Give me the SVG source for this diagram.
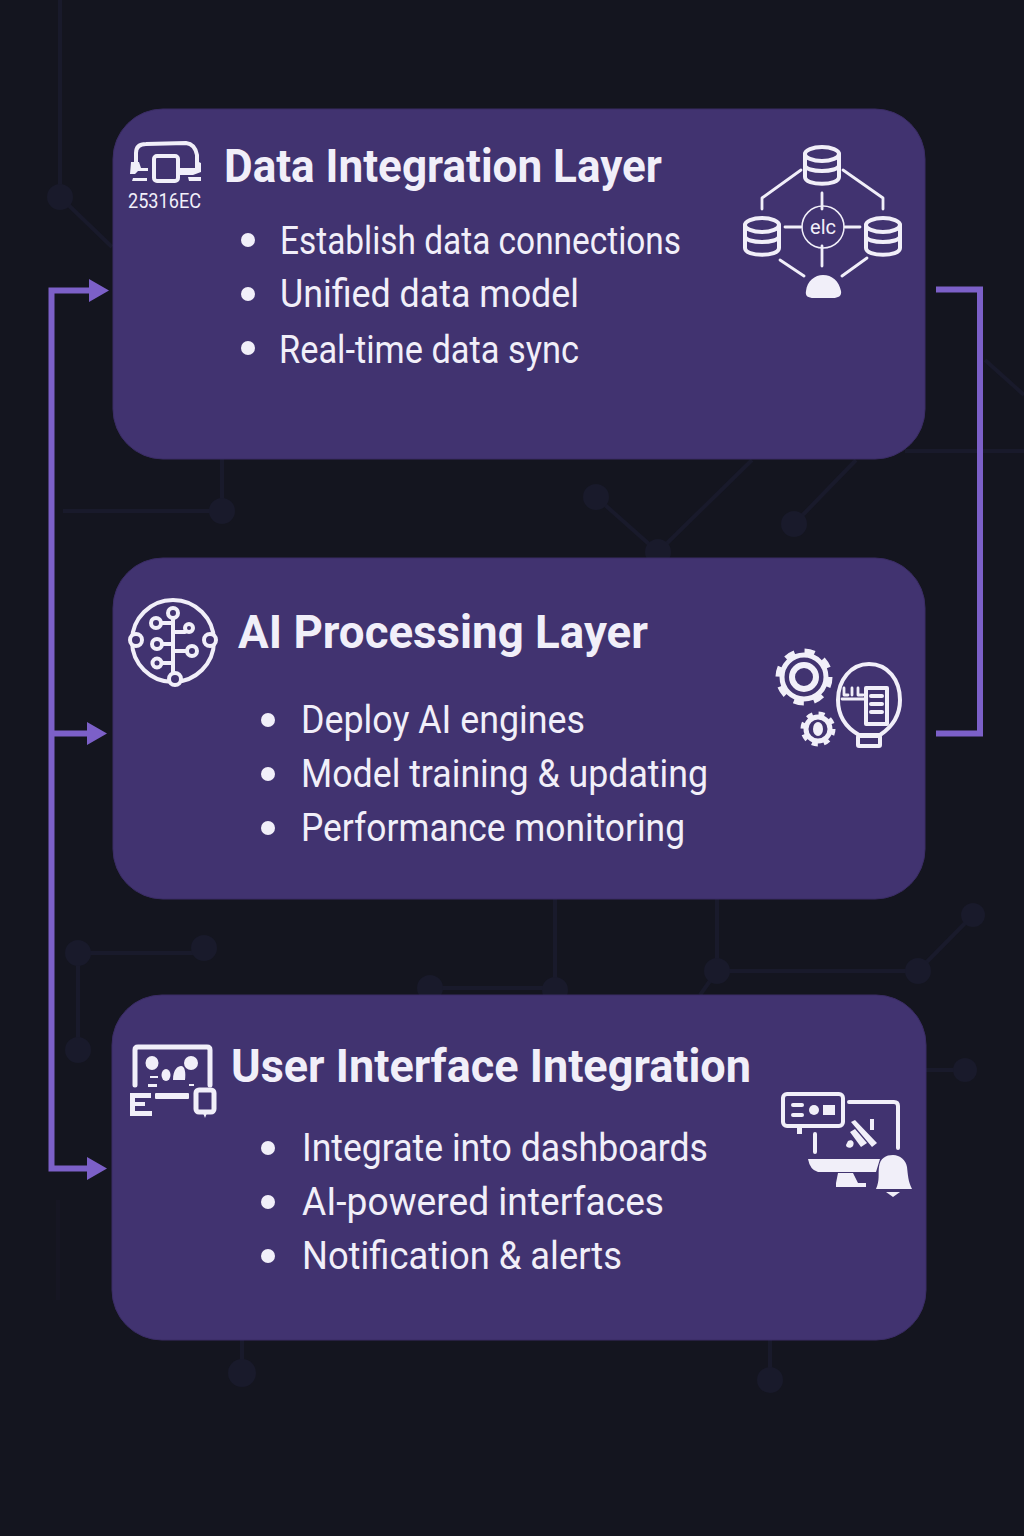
<svg xmlns="http://www.w3.org/2000/svg" width="1024" height="1536" viewBox="0 0 1024 1536">
<defs>
<style>
.card{fill:#413370;stroke:#3a2c64;stroke-width:1}
.title{font-family:Roboto,"Liberation Sans",sans-serif;font-weight:700;font-size:47px;fill:#f1eff9}
.item{font-family:Roboto,"Liberation Sans",sans-serif;font-weight:400;font-size:39px;fill:#f1eff9}
.dot{fill:#f1eff9}
.ln{fill:none;stroke:#f1eff9;stroke-width:4;stroke-linecap:round;stroke-linejoin:round}
.th{fill:none;stroke:#f1eff9;stroke-width:2.800;stroke-linecap:round;stroke-linejoin:round}
.fl{fill:#f1eff9}
.hl{fill:#413370;stroke:#f1eff9;stroke-width:4}
.bgl{fill:none;stroke:#191a2b;stroke-width:4}
.bgn{fill:#191a2b}
.conn{fill:none;stroke:#7c60c8;stroke-width:6}
.head{fill:#7c60c8}
.lbl{font-family:Roboto,"Liberation Sans",sans-serif;fill:#f1eff9}
</style>
<g id="db"><path class="ln" d="M-17-11V12C-17 21 17 21 17 12V-11"/><ellipse class="ln" cx="0" cy="-11" rx="17" ry="7"/><path class="ln" d="M-17 0C-17 8 17 8 17 0"/></g>
</defs>
<rect width="1024" height="1536" fill="#14151f"/>
<g id="background">
<path class="bgl" d="M60 0V197L112 247M63 511H222V459M596 497L658 552L752 460M794 524L856 460M905 451H1024M985 360L1024 395M78 953H204M78 953V1050M430 988H555V899M717 899V971H918L973 915M717 971L700 995M925 1070H965M242 1340V1373M770 1340V1380"/>
<path class="bgl" stroke-opacity=".4" d="M58 1200V1300"/>
<circle class="bgn" cx="60" cy="197" r="13"/><circle class="bgn" cx="222" cy="511" r="13"/><circle class="bgn" cx="596" cy="497" r="13"/><circle class="bgn" cx="658" cy="552" r="13"/><circle class="bgn" cx="794" cy="524" r="13"/><circle class="bgn" cx="78" cy="953" r="13"/><circle class="bgn" cx="204" cy="948" r="13"/><circle class="bgn" cx="78" cy="1050" r="13"/><circle class="bgn" cx="430" cy="988" r="13"/><circle class="bgn" cx="555" cy="990" r="13"/><circle class="bgn" cx="717" cy="971" r="13"/><circle class="bgn" cx="918" cy="971" r="13"/><circle class="bgn" cx="973" cy="915" r="12"/><circle class="bgn" cx="965" cy="1070" r="12"/><circle class="bgn" cx="242" cy="1373" r="14"/><circle class="bgn" cx="770" cy="1380" r="13"/>
</g>
<g id="connectors">
<path class="conn" d="M90 290.500H51.500V1168.500H90M51.500 733.500H90"/>
<path class="conn" d="M936 289.500H980V733.500H936"/>
<path class="head" d="M89 279L109 290.500L89 302ZM87 722L107 733.500L87 745ZM87 1157L107 1168.500L87 1180Z"/>
</g>
<g id="node-data-integration">
<rect class="card" x="113" y="109" width="812" height="350" rx="50"/>
<g id="icon-data-left">
<path class="ln" d="M136 165V153Q136 144 146 144L186 143Q195 144 197 155V165"/>
<rect class="ln" x="154" y="156" width="24" height="25" rx="3"/>
<path class="fl" d="M131 162H139L141 168H148V171H138L135 174H130ZM180 168H195V160L201 163V172L193 175H180ZM133 178H147V181H132ZM188 177H201V181H189Z"/>
<text class="lbl" x="128" y="208" font-size="19.500" textLength="73" lengthAdjust="spacingAndGlyphs">25316EC</text>
</g>
<text class="title" x="224" y="182" textLength="438" lengthAdjust="spacingAndGlyphs">Data Integration Layer</text>
<circle class="dot" cx="248" cy="240" r="7"/><circle class="dot" cx="248" cy="294" r="7"/><circle class="dot" cx="248" cy="348" r="7"/>
<text class="item" x="280" y="254" textLength="401" lengthAdjust="spacingAndGlyphs">Establish data connections</text>
<text class="item" x="280" y="307" textLength="299" lengthAdjust="spacingAndGlyphs">Unified data model</text>
<text class="item" x="279" y="363" textLength="300" lengthAdjust="spacingAndGlyphs">Real-time data sync</text>
<g id="icon-data-right">
<use href="#db" x="822" y="165"/><use href="#db" x="762" y="236"/><use href="#db" x="883" y="236"/>
<path class="th" d="M801 170L762 198V209M843 170L883 198V209M822 193V209M785 227H801M845 227H860M822 246V266M780 260L804 276M867 258L842 276"/>
<circle cx="823" cy="227" r="21" fill="none" stroke="#f1eff9" stroke-width="1.500"/>
<text class="lbl" x="823" y="234" font-size="20" text-anchor="middle">elc</text>
<path class="fl" d="M806 291C807 281 815 275 823 275C832 275 839 281 841 291C842 296 838 298 833 298H814C808 298 805 296 806 291Z"/>
</g>
</g>
<g id="node-ai-processing">
<rect class="card" x="113" y="558" width="812" height="341" rx="50"/>
<g id="icon-ai-left">
<circle class="ln" cx="173" cy="641" r="41"/>
<path class="ln" d="M173 615V677M162 623H173M163 644H173M163 663H173M173 632H185M173 651H187"/>
<circle class="hl" cx="173" cy="613" r="5"/><circle class="hl" cx="136" cy="640" r="6"/><circle class="hl" cx="210" cy="640" r="6"/><circle class="hl" cx="175" cy="679" r="6"/><circle class="hl" cx="156" cy="623" r="5"/><circle class="hl" cx="157" cy="644" r="5"/><circle class="hl" cx="157" cy="663" r="4.500"/><circle class="hl" cx="189" cy="628" r="4"/><circle class="hl" cx="192" cy="651" r="5"/>
</g>
<text class="title" x="238" y="648" textLength="410" lengthAdjust="spacingAndGlyphs">AI Processing Layer</text>
<circle class="dot" cx="268" cy="720" r="7"/><circle class="dot" cx="268" cy="774" r="7"/><circle class="dot" cx="268" cy="828" r="7"/>
<text class="item" x="301" y="733" textLength="284" lengthAdjust="spacingAndGlyphs">Deploy AI engines</text>
<text class="item" x="301" y="787" textLength="407" lengthAdjust="spacingAndGlyphs">Model training &amp; updating</text>
<text class="item" x="301" y="841" textLength="384" lengthAdjust="spacingAndGlyphs">Performance monitoring</text>
<g id="icon-ai-right">
<circle cx="804" cy="677" r="22" fill="none" stroke="#f1eff9" stroke-width="5"/>
<circle cx="804" cy="677" r="25" fill="none" stroke="#f1eff9" stroke-width="7" stroke-dasharray="9.800 9.800"/>
<circle cx="804" cy="677" r="12" fill="none" stroke="#f1eff9" stroke-width="6"/>
<circle cx="818" cy="729" r="12" fill="none" stroke="#f1eff9" stroke-width="5"/>
<circle cx="818" cy="729" r="15" fill="none" stroke="#f1eff9" stroke-width="5" stroke-dasharray="5.900 5.900"/>
<ellipse class="fl" cx="818" cy="729" rx="5" ry="7"/>
<path class="ln" d="M859 735C845 727 838 715 838 700C838 680 851 664 869 664C888 664 900 680 900 700C900 715 892 727 880 735Z"/>
<rect class="ln" x="858" y="736" width="22" height="10" rx="1"/>
<path class="th" d="M842 699H864M844 688V695H848M852 688V695M858 688V695H863"/>
<rect class="ln" x="866" y="688" width="21" height="36"/>
<path class="ln" d="M871 696H882M871 704H882M871 712H882"/>
</g>
</g>
<g id="node-ui-integration">
<rect class="card" x="112" y="995" width="814" height="345" rx="50"/>
<g id="icon-ui-left">
<path class="ln" stroke-width="5" style="stroke-width:5" d="M135 1085V1050Q135 1047 138 1047H207Q210 1047 210 1050V1085"/>
<ellipse class="fl" cx="152" cy="1063" rx="6.500" ry="7"/><ellipse class="fl" cx="191" cy="1063" rx="7" ry="7"/><ellipse class="fl" cx="166" cy="1075" rx="4.500" ry="6"/><path class="fl" d="M173 1080C173 1069 178 1066 181 1066C185 1066 186 1073 185 1080ZM150 1076H158V1078H150ZM148 1084H157V1087H148ZM189 1084H194V1086H189Z"/>
<rect class="fl" x="155" y="1093" width="34" height="6" rx="1"/>
<rect class="ln" style="stroke-width:5" x="196" y="1090" width="18" height="22" rx="3"/>
<path class="fl" d="M203 1113H207L205 1118Z"/>
<path class="fl" d="M130 1093H151V1098H135V1102H145V1106H135V1111H152V1116H130Z"/>
</g>
<text class="title" x="231" y="1082" textLength="520" lengthAdjust="spacingAndGlyphs">User Interface Integration</text>
<circle class="dot" cx="268" cy="1148" r="7"/><circle class="dot" cx="268" cy="1202" r="7"/><circle class="dot" cx="268" cy="1256" r="7"/>
<text class="item" x="302" y="1161" textLength="406" lengthAdjust="spacingAndGlyphs">Integrate into dashboards</text>
<text class="item" x="302" y="1215" textLength="362" lengthAdjust="spacingAndGlyphs">AI-powered interfaces</text>
<text class="item" x="302" y="1269" textLength="320" lengthAdjust="spacingAndGlyphs">Notification &amp; alerts</text>
<g id="icon-ui-right">
<rect class="ln" x="783" y="1094" width="60" height="32" rx="4"/>
<path class="ln" d="M793 1105H802M793 1115H802"/>
<circle class="fl" cx="814" cy="1110" r="5"/><rect class="fl" x="823" y="1105" width="12" height="10"/>
<rect class="fl" x="797" y="1128" width="5" height="6"/>
<path class="ln" d="M849 1102H894Q898 1102 898 1106V1148M815 1134V1152"/>
<path class="fl" d="M808 1159H880L876 1172H818Q810 1170 808 1159ZM838 1173H853L858 1183H866V1187H836V1183Z"/>
<path class="fl" d="M851 1122L855 1120L877 1143L872 1147ZM850 1132L855 1129L867 1143L861 1147ZM848 1141C852 1139 855 1142 853 1146C851 1149 846 1148 846 1145ZM870 1119H874V1130H870Z"/>
<path class="fl" d="M876 1189C880 1180 878 1174 879 1167C880 1158 886 1155 893 1155C900 1155 906 1160 907 1167C908 1175 908 1181 912 1189Z"/>
<path class="fl" d="M886 1192H900L893 1197Z"/>
</g>
</g>
</svg>
